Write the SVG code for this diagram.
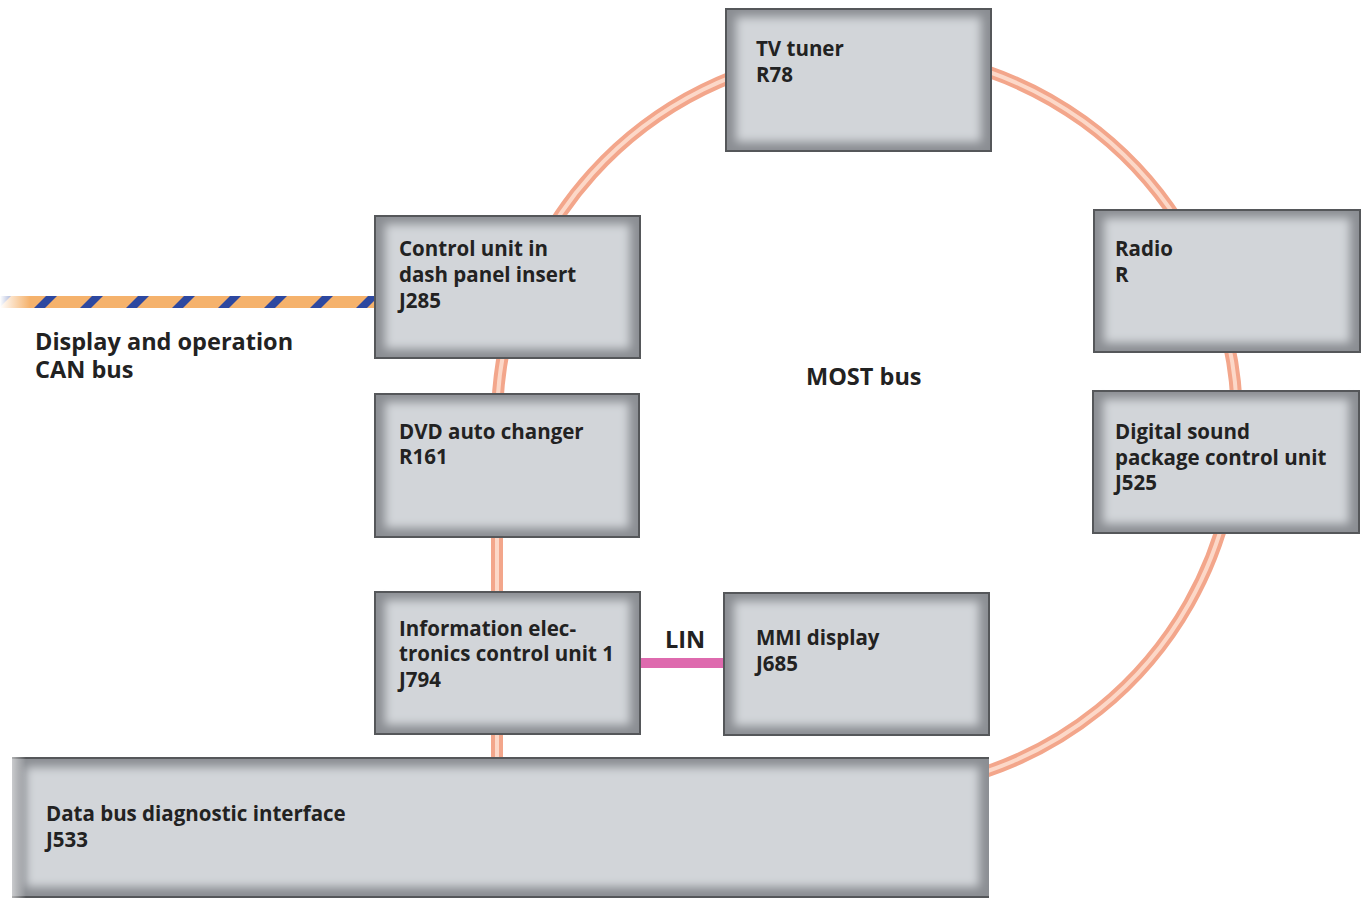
<svg xmlns="http://www.w3.org/2000/svg" width="1363" height="899" viewBox="0 0 1363 899">
<defs>
<style>
.bg{fill:#8b8e93}
.in{fill:#d2d5d9;filter:url(#soft)}
.bd{fill:none;stroke:#55575a;stroke-width:2}
text{font-family:"Open Sans","Noto Sans","Liberation Sans",sans-serif;font-weight:bold;font-size:20.5px;fill:#222}
text.lbl{font-size:23.5px}
.ring1{fill:none;stroke:#f3a68b;stroke-width:12}
.ring2{fill:none;stroke:#fcd8c8;stroke-width:4}
</style>
<filter id="soft" x="-10%" y="-20%" width="120%" height="140%">
<feGaussianBlur stdDeviation="5"/>
</filter>
<pattern id="can" width="46" height="12" patternUnits="userSpaceOnUse" patternTransform="translate(0,296) skewX(-45)">
<rect width="46" height="12" fill="#f5b26c"/>
<rect x="0" width="11" height="12" fill="#2d48a0"/>
</pattern>
<linearGradient id="fadeL" x1="0" x2="1" y1="0" y2="0">
<stop offset="0" stop-color="#fff" stop-opacity="1"/>
<stop offset="1" stop-color="#fff" stop-opacity="0"/>
</linearGradient>
</defs>
<rect width="1363" height="899" fill="#fff"/>
<g id="connectors">
<path class="ring1" d="M 497 775 L 497 420 A 370 370 0 1 1 985 772"/>
<path class="ring2" d="M 497 775 L 497 420 A 370 370 0 1 1 985 772"/>
<rect x="0" y="296" width="376" height="12" fill="url(#can)"/>
<rect x="0" y="294" width="30" height="16" fill="url(#fadeL)"/>
<line x1="640" y1="663" x2="724" y2="663" stroke="#de6aae" stroke-width="10"/>
</g>
<g id="tv-tuner">
<rect class="bg" x="726" y="9" width="265" height="142"/>
<rect class="in" x="736" y="17" width="245" height="125"/>
<rect class="bd" x="726" y="9" width="265" height="142"/>
<text x="756" y="56">TV tuner</text>
<text x="756" y="82">R78</text>
</g>
<g id="j285">
<rect class="bg" x="375" y="216" width="265" height="142"/>
<rect class="in" x="385" y="224" width="245" height="125"/>
<rect class="bd" x="375" y="216" width="265" height="142"/>
<text x="399" y="256">Control unit in</text>
<text x="399" y="282">dash panel insert</text>
<text x="399" y="308">J285</text>
</g>
<g id="radio">
<rect class="bg" x="1094" y="210" width="266" height="142"/>
<rect class="in" x="1104" y="218" width="246" height="125"/>
<rect class="bd" x="1094" y="210" width="266" height="142"/>
<text x="1115" y="256">Radio</text>
<text x="1115" y="282">R</text>
</g>
<g id="dvd">
<rect class="bg" x="375" y="394" width="264" height="143"/>
<rect class="in" x="385" y="402" width="244" height="126"/>
<rect class="bd" x="375" y="394" width="264" height="143"/>
<text x="399" y="439">DVD auto changer</text>
<text x="399" y="464">R161</text>
</g>
<g id="j525">
<rect class="bg" x="1093" y="391" width="266" height="142"/>
<rect class="in" x="1103" y="399" width="246" height="125"/>
<rect class="bd" x="1093" y="391" width="266" height="142"/>
<text x="1115" y="439">Digital sound</text>
<text x="1115" y="465">package control unit</text>
<text x="1115" y="490">J525</text>
</g>
<g id="j794">
<rect class="bg" x="375" y="592" width="265" height="142"/>
<rect class="in" x="385" y="600" width="245" height="125"/>
<rect class="bd" x="375" y="592" width="265" height="142"/>
<text x="399" y="636">Information elec-</text>
<text x="399" y="661">tronics control unit 1</text>
<text x="399" y="687">J794</text>
</g>
<g id="j685">
<rect class="bg" x="724" y="593" width="265" height="142"/>
<rect class="in" x="734" y="601" width="245" height="125"/>
<rect class="bd" x="724" y="593" width="265" height="142"/>
<text x="756" y="645">MMI display</text>
<text x="756" y="671">J685</text>
</g>
<g id="j533">
<rect class="bg" x="12" y="758" width="977" height="139"/>
<rect class="in" x="26" y="767" width="953" height="120"/>
<rect class="bd" x="12" y="758" width="977" height="139" stroke-dasharray="977 139 977 0 0 139"/>
<rect x="0" y="750" width="26" height="149" fill="url(#fadeL)"/>
<text x="46" y="821">Data bus diagnostic interface</text>
<text x="46" y="847">J533</text>
</g>
<g id="labels">
<text class="lbl" x="35" y="350">Display and operation</text>
<text class="lbl" x="35" y="378">CAN bus</text>
<text class="lbl" x="806" y="385">MOST bus</text>
<text class="lbl" x="665" y="648">LIN</text>
</g>
</svg>
